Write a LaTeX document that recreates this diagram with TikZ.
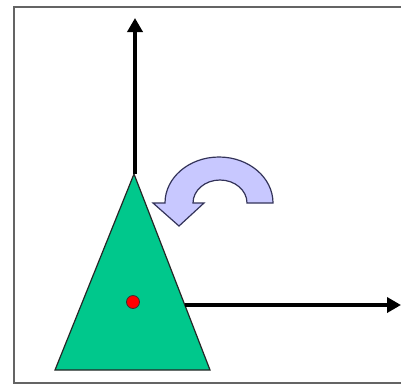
\documentclass[tikz,border=0pt]{standalone}
\usetikzlibrary{arrows.meta}
\definecolor{trigreen}{RGB}{0,200,140}
\definecolor{lav}{RGB}{200,200,255}
\definecolor{framegray}{RGB}{100,100,100}
\tikzset{
  axis/.style={line width=3.5pt,-{Triangle[width=15pt,length=14pt]}},
  shapeline/.style={draw=black!85,line width=1.2pt},
}
\begin{document}
\begin{tikzpicture}[x=1pt,y=1pt]
\useasboundingbox (0,0) rectangle (401,-386);
\fill[white] (0,0) rectangle (401,-386);
% frame (right side runs off the picture)
\draw[framegray,line width=1.6pt] (420,-7) -- (14,-7) -- (14,-383) -- (420,-383);
% triangle
\coordinate (apex) at (134,-174);
\coordinate (bl) at (55,-370);
\coordinate (br) at (210,-370);
\coordinate (edge) at (185,-305);
\filldraw[fill=trigreen,shapeline] (apex) -- (bl) -- (br) -- cycle;
% axes
\coordinate (ytip) at (135,-18);
\coordinate (xtip) at (401,-305);
\draw[axis] (135,-174) -- (ytip);
\draw[axis] (edge) -- (xtip);
% red dot
\filldraw[fill=red,draw=black!80,line width=0.8pt] (133,-302) circle[radius=6.5];
% curved rotation arrow
\filldraw[fill=lav,draw=black!75!blue!60!gray,line width=1.2pt]
  (273,-203) arc[start angle=0,end angle=180,x radius=54,y radius=46]
  -- (153,-203) -- (179,-226) -- (204,-203) -- (193,-203)
  arc[start angle=180,end angle=0,x radius=27,y radius=23]
  -- cycle;
\end{tikzpicture}
\end{document}
